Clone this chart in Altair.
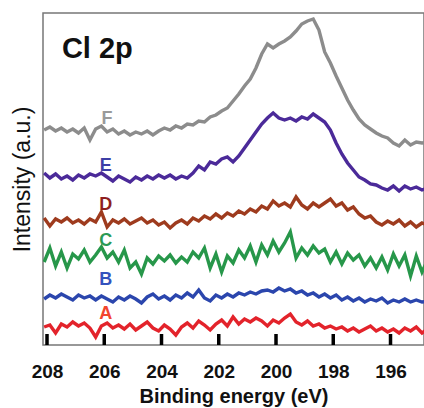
import altair as alt
import numpy as np
import pandas as pd

# Binding energy grid (eV), 0.2 eV steps, high to low
energy = np.round(208.1 - 0.2 * np.arange(68), 1)

# Offset Cl 2p spectra, arbitrary intensity units
spec_F = [215, 218, 214, 217, 213, 216, 212, 217, 205, 216, 219, 213, 216, 211, 214, 210,
          213, 211, 214, 210, 214, 217, 215, 219, 217, 221, 220, 224, 223, 228, 230, 234,
          237, 244, 251, 259, 266, 277, 291, 301, 297, 301, 304, 308, 314, 321, 324, 326,
          315, 293, 282, 269, 257, 245, 235, 226, 220, 216, 212, 209, 207, 202, 199, 205,
          200, 203, 202, 203]
spec_E = [172, 167, 171, 166, 169, 165, 170, 167, 171, 169, 172, 168, 164, 169, 166, 163,
          168, 165, 169, 166, 170, 167, 170, 166, 169, 167, 172, 179, 175, 183, 181, 186,
          188, 183, 189, 197, 205, 213, 221, 227, 232, 227, 225, 227, 224, 228, 226, 231,
          227, 223, 215, 202, 191, 182, 175, 168, 165, 161, 160, 157, 155, 159, 154, 159,
          156, 158, 155, 157]
spec_D = [127, 119, 126, 123, 127, 122, 125, 121, 126, 123, 133, 118, 125, 122, 126, 121,
          124, 127, 122, 125, 120, 123, 117, 122, 125, 121, 127, 124, 129, 126, 131, 127,
          132, 129, 134, 131, 136, 133, 139, 136, 144, 139, 142, 138, 148, 140, 136, 142,
          138, 142, 146, 139, 142, 135, 138, 131, 127, 129, 123, 120, 124, 121, 125, 119,
          123, 118, 122, 120]
spec_C = [83, 97, 79, 93, 77, 91, 86, 95, 83, 90, 98, 87, 93, 83, 95, 77,
          83, 71, 87, 81, 89, 84, 90, 82, 88, 83, 93, 87, 97, 77, 91, 73,
          89, 82, 95, 87, 99, 83, 100, 90, 104, 93, 102, 113, 87, 97, 90, 99,
          92, 96, 83, 93, 81, 92, 85, 90, 79, 87, 77, 88, 75, 91, 79, 90,
          69, 89, 73, 85]
spec_B = [46, 50, 47, 51, 48, 45, 50, 47, 49, 45, 49, 46, 43, 48, 45, 49,
          46, 42, 48, 51, 46, 49, 45, 50, 47, 52, 48, 55, 47, 44, 50, 47,
          51, 48, 52, 50, 53, 51, 54, 55, 53, 57, 54, 56, 52, 54, 50, 52,
          48, 51, 47, 50, 45, 48, 44, 47, 43, 46, 44, 47, 42, 45, 43, 46,
          43, 45, 43, 44]
spec_A = [18, 20, 12, 21, 18, 23, 19, 22, 17, 8, 19, 22, 17, 20, 16, 21,
          15, 19, 23, 17, 14, 20, 16, 10, 18, 22, 17, 24, 20, 15, 21, 25,
          19, 28, 21, 26, 23, 27, 24, 19, 25, 22, 27, 31, 23, 20, 24, 19,
          21, 17, 19, 16, 18, 14, 17, 13, 16, 19, 14, 17, 13, 16, 12, 17,
          14, 18, 12, 16]

series_names = ["A", "B", "C", "D", "E", "F"]
spectra = [spec_A, spec_B, spec_C, spec_D, spec_E, spec_F]

# Curve labels: energy position and height of each letter
label_energy = [205.95, 205.95, 205.95, 205.95, 205.95, 205.9]
label_height = [31, 65, 104, 140, 179, 226]

tick_values = [208, 206, 204, 202, 200, 198, 196]

line_colors = ["#e3232b", "#2b46ad", "#27974a", "#9e3b1e", "#4b2a99", "#8c8c8c"]
label_colors = ["#f2452e", "#3352bd", "#2a9a55", "#8e1f1f", "#3d3fa6", "#9a9a9a"]

FONT = "Liberation Sans"

wide = pd.DataFrame({"energy": energy})
for name, values in zip(series_names, spectra):
    wide[name] = values
long = wide.melt(id_vars="energy", var_name="sample", value_name="intensity")

labels = pd.DataFrame({"sample": series_names, "energy": label_energy,
                       "intensity": label_height})
ticks = pd.DataFrame({"energy": tick_values})

x_scale = alt.Scale(domain=[208.14, 194.83], nice=False, zero=False)
y_scale = alt.Scale(domain=[0, 332], nice=False, zero=False)

x_enc = alt.X(
    "energy:Q", scale=x_scale,
    axis=alt.Axis(values=tick_values, format="d", ticks=False, domain=False, grid=False,
                  labelFont=FONT, labelFontSize=19, labelFontWeight="bold",
                  labelColor="#111", labelPadding=17,
                  title="Binding energy (eV)", titleFont=FONT, titleFontSize=20,
                  titleFontWeight="bold", titleColor="#111", titlePadding=5),
)
y_enc = alt.Y(
    "intensity:Q", scale=y_scale,
    axis=alt.Axis(labels=False, ticks=False, domain=False, grid=False,
                  title="Intensity (a.u.)", titleFont=FONT, titleFontSize=23,
                  titleFontWeight="normal", titleColor="#111", titlePadding=9),
)

lines = alt.Chart(long).mark_line(strokeWidth=3.4, clip=True).encode(
    x=x_enc,
    y=y_enc,
    color=alt.Color("sample:N", scale=alt.Scale(domain=series_names, range=line_colors),
                    legend=None),
    detail="sample:N",
)

letters = alt.Chart(labels).mark_text(
    font=FONT, fontSize=18, fontWeight="bold", align="center", baseline="middle"
).encode(
    x=alt.X("energy:Q", scale=x_scale),
    y=alt.Y("intensity:Q", scale=y_scale),
    text="sample:N",
    color=alt.Color("sample:N", scale=alt.Scale(domain=series_names, range=label_colors),
                    legend=None),
)

panel_title = alt.Chart(pd.DataFrame({"energy": [207.48], "intensity": [287],
                                      "text": ["Cl 2p"]})).mark_text(
    font=FONT, fontSize=29, fontWeight="bold", align="left", baseline="alphabetic",
    color="#111"
).encode(
    x=alt.X("energy:Q", scale=x_scale),
    y=alt.Y("intensity:Q", scale=y_scale),
    text="text:N",
)

# Inward-pointing major ticks along the bottom edge
tick_marks = alt.Chart(ticks).mark_rule(color="#000", strokeWidth=3.5).encode(
    x=alt.X("energy:Q", scale=x_scale),
    y=alt.value(332),
    y2=alt.value(321),
)

chart = alt.layer(lines, letters, panel_title, tick_marks).resolve_scale(
    color="independent"
).properties(
    width=381,
    height=332,
    padding={"left": 43, "top": 13, "right": 0, "bottom": 63},
    autosize="none",
    background="white",
).configure_view(
    stroke="#777", strokeWidth=1.5
)

chart.save("out.html", embed_options={"renderer": "svg", "actions": False})
